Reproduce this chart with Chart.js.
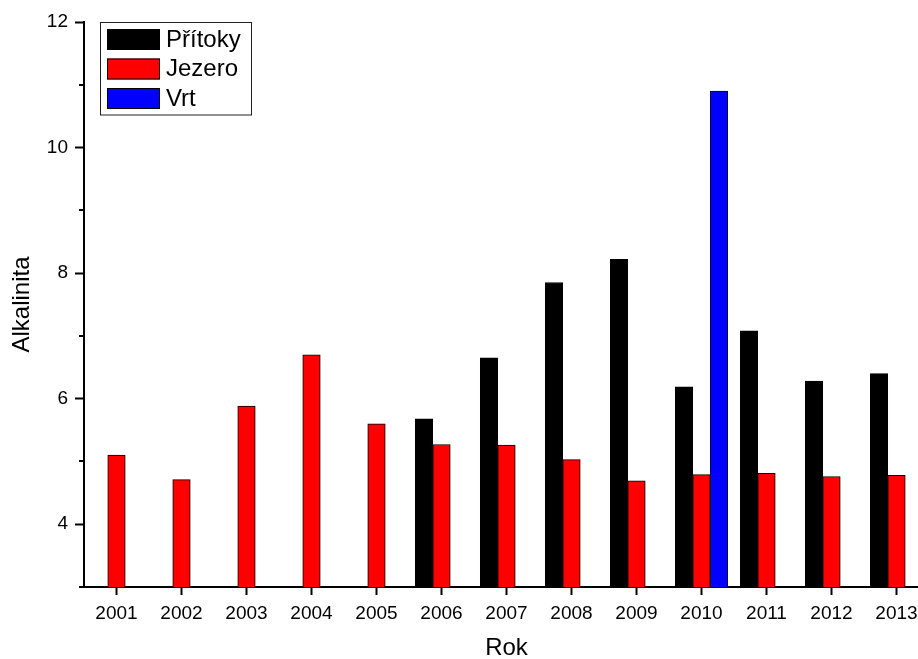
<!DOCTYPE html>
<html>
<head>
<meta charset="utf-8">
<script src="https://cdn.jsdelivr.net/npm/chart.js@4/dist/chart.umd.min.js"></script>
<style>
  html, body { margin: 0; padding: 0; overflow: hidden; background: #fff; width: 918px; height: 659px; }
  #wrap { position: relative; width: 929px; height: 659px; }
</style>
</head>
<body>
<div id="wrap"><canvas id="c"></canvas></div>
<script>
// Alkalinity per year: inflows (Přítoky), lake (Jezero), borehole (Vrt)
const years   = ['2001', '2002', '2003', '2004', '2005', '2006', '2007', '2008', '2009', '2010', '2011', '2012', '2013'];
const pritoky = [null, null, null, null, null, 5.68, 6.65, 7.85, 8.22, 6.19, 7.08, 6.28, 6.40];
const jezero  = [5.10, 4.71, 5.88, 6.70, 5.60, 5.27, 5.26, 5.03, 4.69, 4.79, 4.81, 4.76, 4.78];
const vrt     = [null, null, null, null, null, null, null, null, null, 10.90, null, null, null];
const seriesNames = ['Přítoky', 'Jezero', 'Vrt'];
const yMin = 3, yMax = 12;
const minorTicks = [3, 5, 7, 9, 11];

const FONT = "'Liberation Sans', Arial, sans-serif";

// Boxed legend in the upper-left corner of the plot
const boxLegend = {
  id: 'boxLegend',
  afterDraw(chart) {
    const ctx = chart.ctx;
    ctx.save();
    ctx.fillStyle = '#fff';
    ctx.fillRect(100.5, 22.5, 151, 92.5);
    ctx.strokeStyle = '#222';
    ctx.lineWidth = 1;
    ctx.strokeRect(100.5, 22.5, 151, 92.5);
    chart.data.datasets.forEach((ds, i) => {
      const y = 29 + i * 29.5;
      ctx.fillStyle = ds.backgroundColor;
      ctx.fillRect(107, y, 53, 21);
      ctx.strokeStyle = '#000';
      ctx.strokeRect(107.5, y + 0.5, 52, 20);
      ctx.fillStyle = '#000';
      ctx.font = '24px ' + FONT;
      ctx.textAlign = 'left';
      ctx.textBaseline = 'middle';
      ctx.fillText(ds.label, 166, y + 11);
    });
    ctx.restore();
  }
};

// Short unlabeled ticks on the y axis between the labeled ones
const minorYTicks = {
  id: 'minorYTicks',
  afterDraw(chart) {
    const s = chart.scales.y;
    const ctx = chart.ctx;
    const x0 = chart.chartArea.left;
    ctx.save();
    ctx.strokeStyle = '#000';
    ctx.lineWidth = 2;
    minorTicks.forEach(v => {
      const y = Math.round(s.getPixelForValue(v));
      ctx.beginPath();
      ctx.moveTo(x0 - 5, y);
      ctx.lineTo(x0, y);
      ctx.stroke();
    });
    ctx.restore();
  }
};

new Chart(document.getElementById('c'), {
  type: 'bar',
  data: {
    labels: years,
    datasets: [
      { label: seriesNames[0], data: pritoky, backgroundColor: '#000000', borderColor: '#000000', borderWidth: 1 },
      { label: seriesNames[1], data: jezero,  backgroundColor: '#ff0000', borderColor: '#000000', borderWidth: 1 },
      { label: seriesNames[2], data: vrt,     backgroundColor: '#0000ff', borderColor: '#000033', borderWidth: 1 }
    ]
  },
  options: {
    responsive: true,
    maintainAspectRatio: false,
    animation: false,
    devicePixelRatio: 1,
    layout: { padding: { top: 22, left: 0, right: 0, bottom: 0 } },
    datasets: { bar: { barThickness: 17.5, borderSkipped: 'start' } },
    plugins: {
      legend: { display: false },
      tooltip: { enabled: false }
    },
    scales: {
      x: {
        type: 'category',
        offset: true,
        border: { display: true, color: '#000', width: 2 },
        grid: {
          display: true, drawOnChartArea: false, drawTicks: true,
          offset: false, tickLength: 8, tickWidth: 2, tickColor: '#000'
        },
        ticks: {
          color: '#000', padding: 7, maxRotation: 0, autoSkip: false,
          font: { family: FONT, size: 19 }
        },
        title: {
          display: true, text: 'Rok', color: '#000',
          font: { family: FONT, size: 24, lineHeight: 0.9 },
          padding: { top: 0, bottom: 0 }
        },
        afterFit(scale) { scale.height = 72; }
      },
      y: {
        type: 'linear',
        min: yMin, max: yMax,
        border: { display: true, color: '#000', width: 2 },
        grid: {
          display: true, drawOnChartArea: false, drawTicks: true,
          tickLength: 9, tickWidth: 2,
          tickColor: c => (c.tick && c.tick.value % 2 === 0) ? '#000' : 'rgba(0,0,0,0)'
        },
        ticks: {
          stepSize: 1, color: '#000', padding: 7,
          font: { family: FONT, size: 19 },
          callback: v => (v % 2 === 0 ? String(v) : '')
        },
        title: {
          display: true, text: 'Alkalinita', color: '#000',
          font: { family: FONT, size: 24, lineHeight: 1.2 },
          padding: { top: 8, bottom: 0 }
        },
        afterFit(scale) { scale.width = 84; }
      }
    }
  },
  plugins: [minorYTicks, boxLegend]
});
</script>
</body>
</html>
